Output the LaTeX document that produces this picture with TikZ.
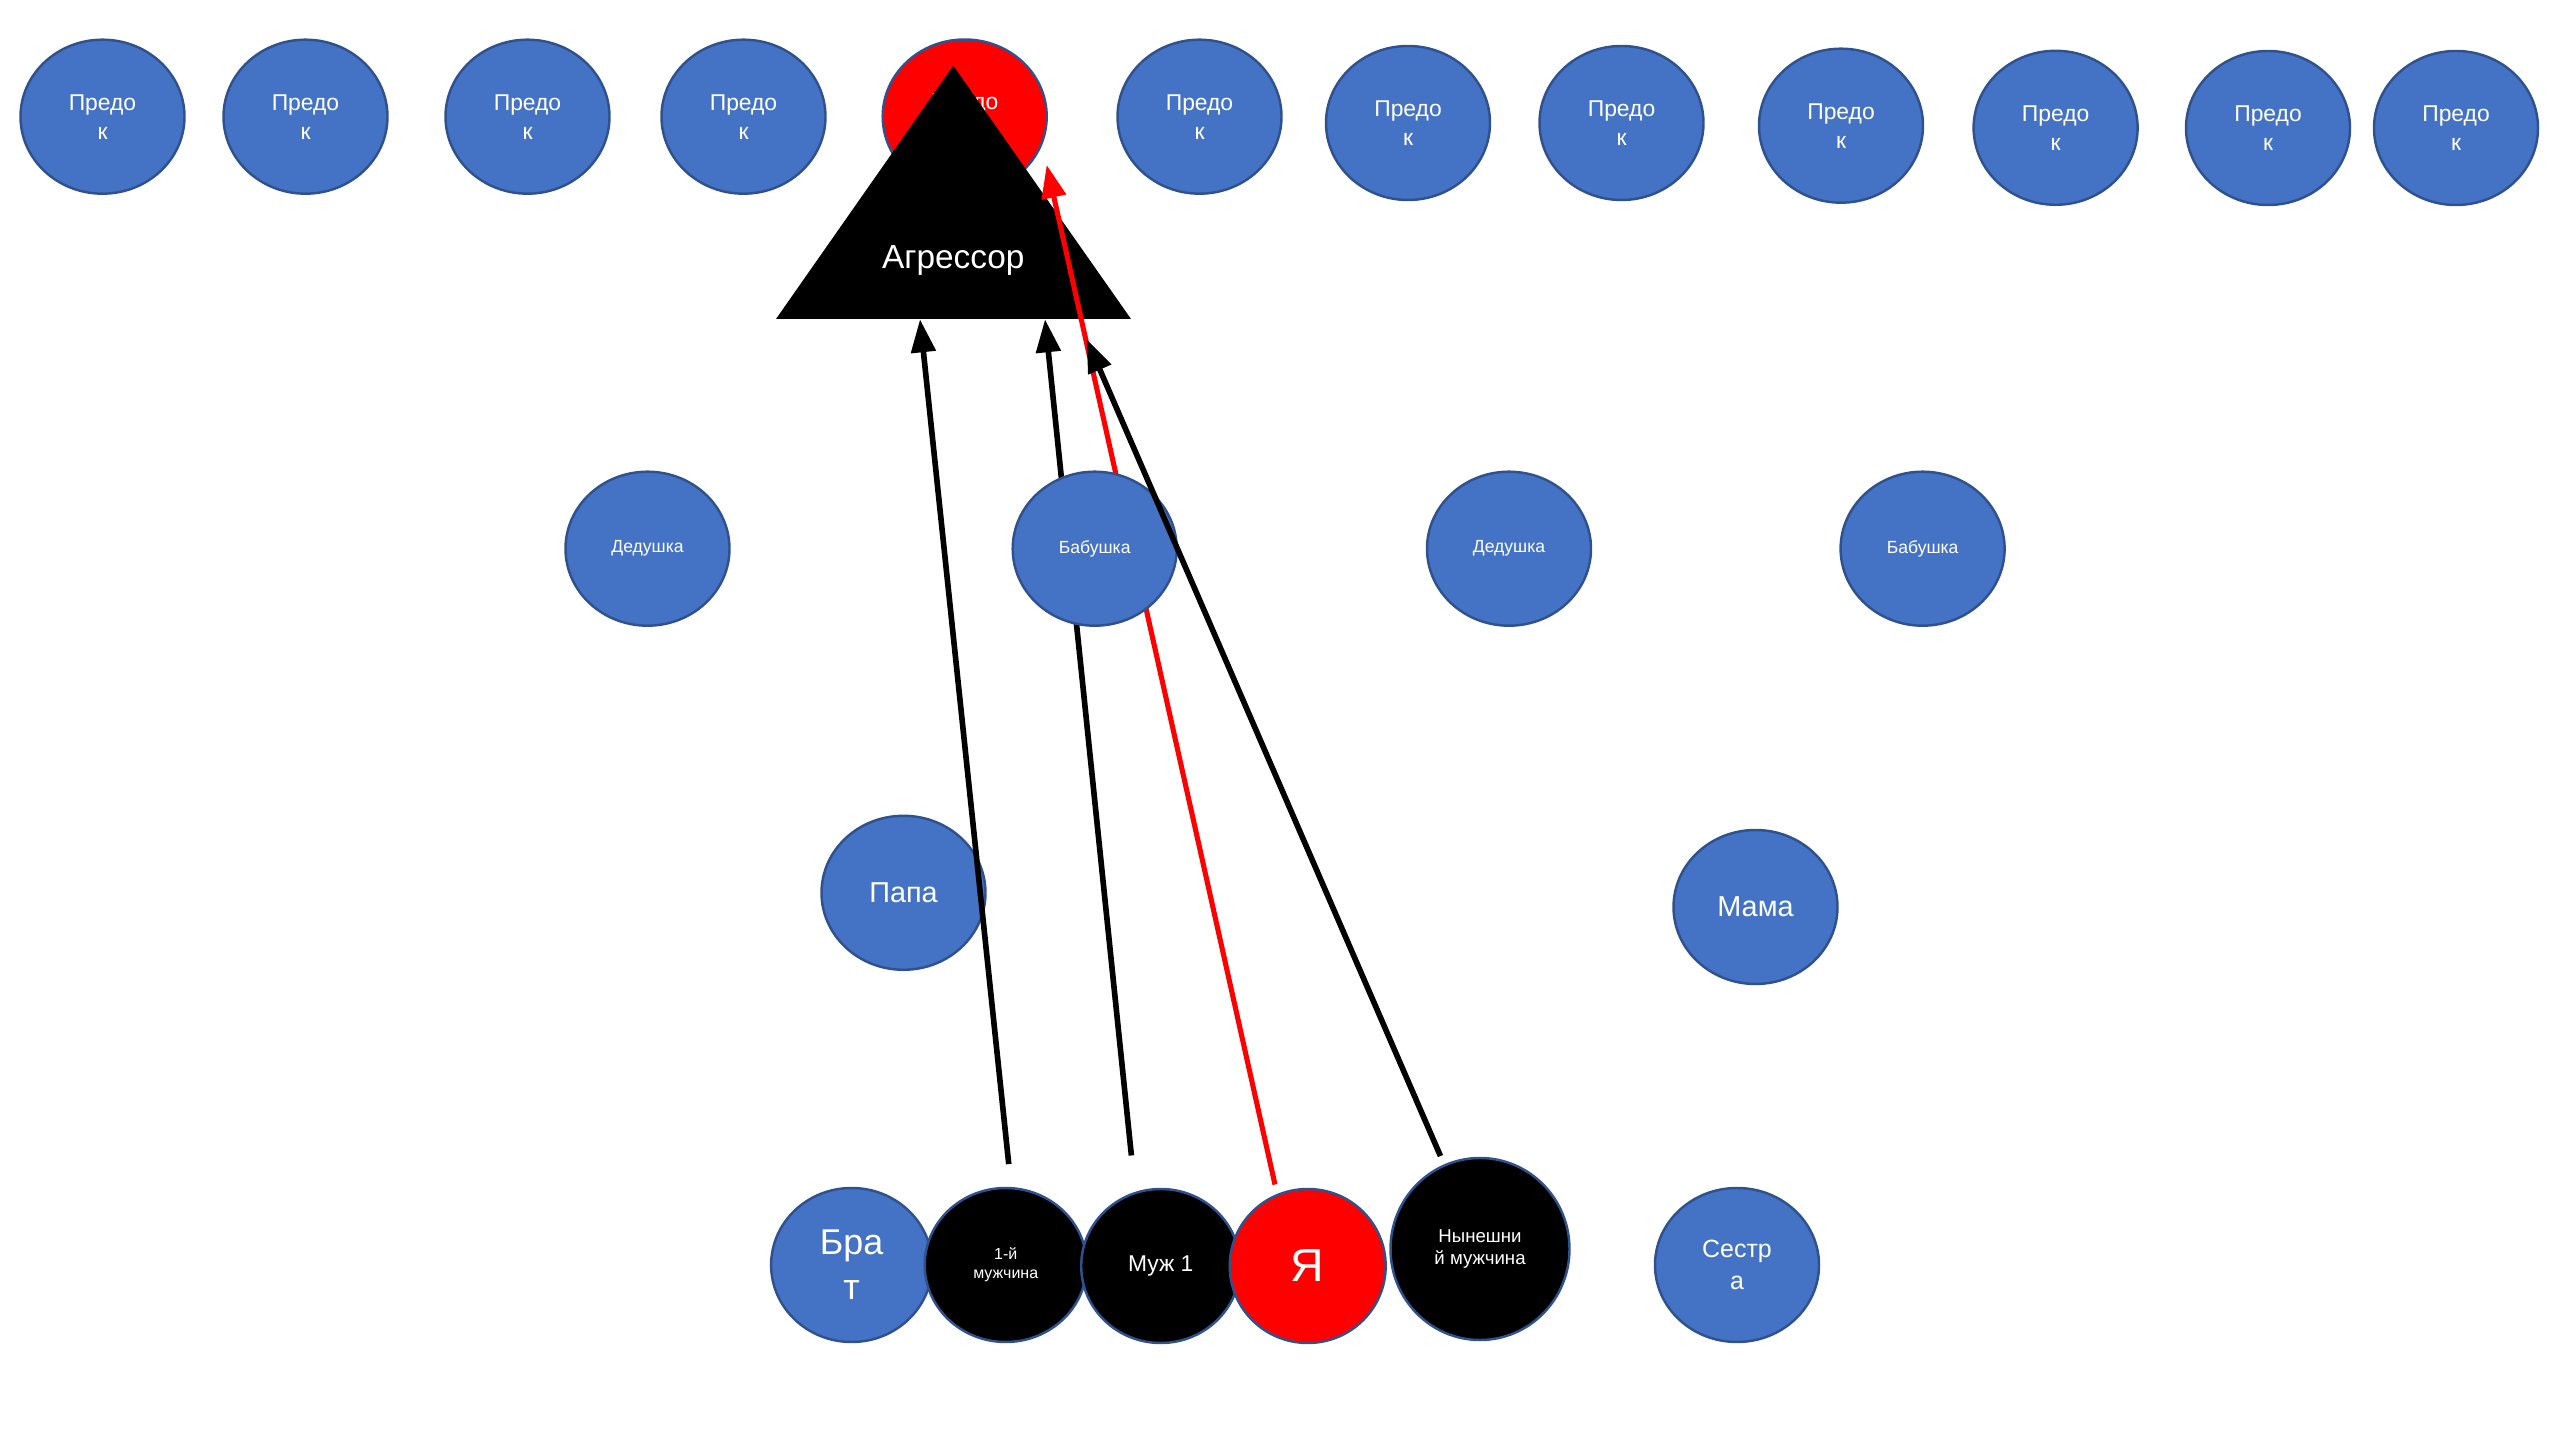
\documentclass[tikz,border=0pt]{standalone}
\usepackage{fontspec}
\setmainfont{Liberation Sans}
\usetikzlibrary{shapes.geometric,arrows.meta}
\definecolor{kinblue}{RGB}{68,114,196}
\definecolor{kinedge}{RGB}{47,82,143}

\begin{document}
\begin{tikzpicture}[scale=1,
    kin/.style={ellipse, draw=kinedge, line width=0.7pt, fill=kinblue, text=white, inner sep=0pt, minimum width=1.64cm, minimum height=1.54cm, align=center},
    man/.style={kin, fill=black},
    me/.style={kin, fill=red},
    pred/.style={kin, font=\fontsize{6.5}{8.25}\selectfont},
    arr/.style={-{Triangle[length=3.3mm,width=2.4mm]}, line width=1.6pt}]
    \useasboundingbox (0,0) rectangle (25.6,14.4);

    \node[pred] (pred1) at (1.025,13.233) {Предо\\к};
    \node[pred] (pred2) at (3.055,13.233) {Предо\\к};
    \node[pred] (pred3) at (5.275,13.233) {Предо\\к};
    \node[pred] (pred4) at (7.435,13.233) {Предо\\к};
    \node[pred, fill=red] (pred5) at (9.647,13.235) {Предо\\к};
    \node[pred] (pred6) at (11.995,13.233) {Предо\\к};
    \node[pred] (pred7) at (14.08,13.17) {Предо\\к};
    \node[pred] (pred8) at (16.215,13.17) {Предо\\к};
    \node[pred] (pred9) at (18.41,13.143) {Предо\\к};
    \node[pred] (pred10) at (20.556,13.122) {Предо\\к};
    \node[pred] (pred11) at (22.68,13.12) {Предо\\к};
    \node[pred] (pred12) at (24.56,13.12) {Предо\\к};

    \fill (9.533,13.743) -- (7.76,11.21) -- (11.31,11.21) -- cycle;
    \node[text=white, font=\fontsize{9.5}{11}\selectfont] (aggr) at (9.533,11.80) {Агрессор};
    \coordinate (t1) at (9.20,11.207);
    \coordinate (t2) at (10.45,11.207);
    \coordinate (t3) at (10.867,11.007);
    \coordinate (tr) at (10.467,12.75);

    \node[kin, minimum width=1.61cm, font=\fontsize{10.2}{12.8}\selectfont] (brat) at (8.516,1.75) {Бра\\т};
    \node[man, minimum width=1.62cm, font=\fontsize{4.55}{5.5}\selectfont] (first) at (10.057,1.75) {1-й\\мужчина};
    \node[man, minimum width=1.59cm, font=\fontsize{6.5}{7.8}\selectfont] (muzh) at (11.607,1.74) {Муж 1};
    \node[me, minimum width=1.56cm, font=\fontsize{13.2}{15.8}\selectfont] (ya) at (13.077,1.74) {Я};
    \node[man, minimum width=1.79cm, minimum height=1.82cm, font=\fontsize{5.3}{6.45}\selectfont] (now) at (14.80,1.91) {Нынешни\\й мужчина};
    \node[kin, font=\fontsize{7.1}{9.1}\selectfont] (sister) at (17.37,1.75) {Сестр\\а};

    \draw[arr, red, line width=1.45pt, shorten <=0.096cm] (ya.113) -- (tr);
    \draw[arr, shorten <=0.365cm] (muzh.109) -- (t2);

    \node[kin, font=\fontsize{5}{6}\selectfont] (ded1) at (6.475,8.913) {Дедушка};
    \node[kin, font=\fontsize{5}{6}\selectfont] (bab1) at (10.947,8.913) {Бабушка};
    \node[kin, font=\fontsize{5}{6}\selectfont] (ded2) at (15.09,8.913) {Дедушка};
    \node[kin, font=\fontsize{5}{6}\selectfont] (bab2) at (19.226,8.913) {Бабушка};

    \node[kin, font=\fontsize{8.2}{9.8}\selectfont] (papa) at (9.035,5.472) {Папа};
    \node[kin, font=\fontsize{8.2}{9.8}\selectfont] (mama) at (17.555,5.33) {Мама};

    \draw[arr, shorten <=0.23cm] (first.86) -- (t1);
    \draw[arr, shorten <=0.09cm] (now.113) -- (t3);
\end{tikzpicture}
\end{document}
